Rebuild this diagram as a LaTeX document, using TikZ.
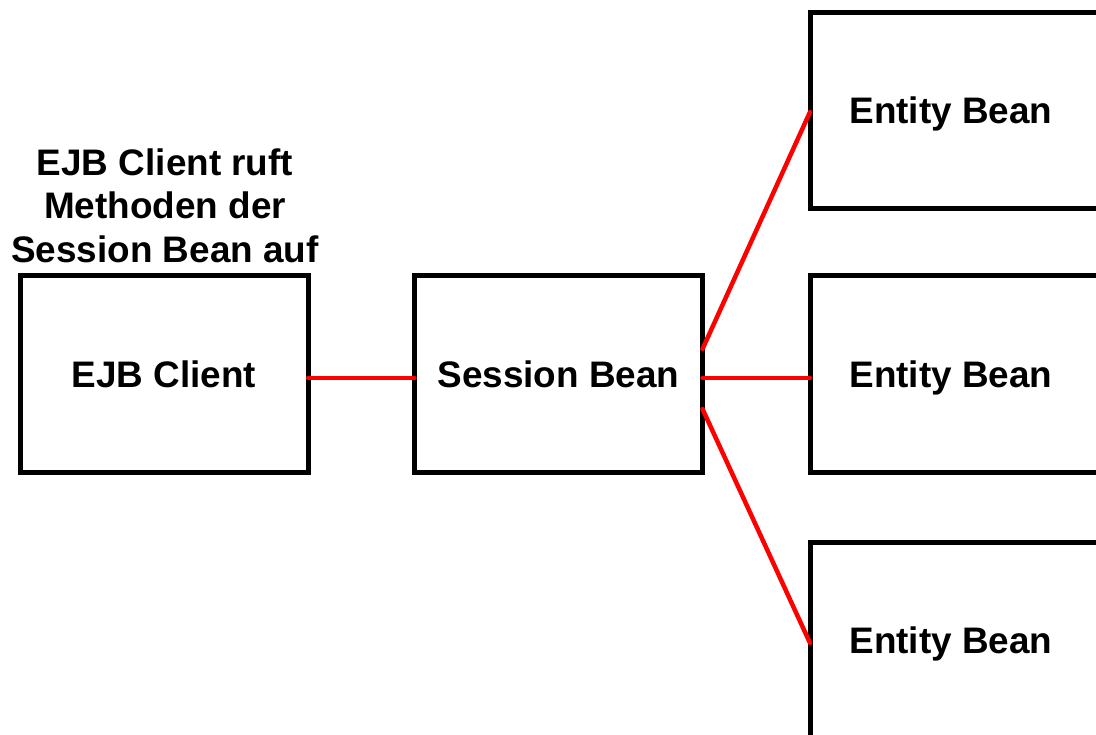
\documentclass[tikz,border=0pt]{standalone}
\usepackage{fontspec}
\setmainfont{Liberation Sans}
\begin{document}
\begin{tikzpicture}[x=1pt,y=-1pt,
  box/.style={draw=black,line width=5pt,fill=white,inner sep=0pt,outer sep=0pt,
    minimum width=288pt,minimum height=196pt,text depth=0pt,
    font=\bfseries\fontsize{36.9}{43.5}\selectfont},
  link/.style={draw=red,line width=4.5pt,line cap=round},
  lbl/.style={align=center,inner sep=0pt,font=\bfseries\fontsize{36.9}{43.5}\selectfont}]
\useasboundingbox (0,0) rectangle (1096,735);
\clip (0,0) rectangle (1096,735);
\node[box] (cl) at (164,374) {EJB Client};
\node[box] (sb) at (558.5,374) {Session Bean};
\node[box] (e1) at (954,110.5) {\hspace*{-6pt}Entity Bean};
\node[box] (e2) at (954,374) {\hspace*{-6pt}Entity Bean};
\node[box] (e3) at (954,640) {\hspace*{-6pt}Entity Bean};
\node[lbl,anchor=south] (t) at (165,263) {EJB Client ruft\\Methoden der\\Session Bean auf};
\draw[link] ([yshift=-4pt]cl.east) -- ([yshift=-4pt]sb.west);
\draw[link] ([yshift=25pt]sb.east) -- ([yshift=-1.5pt]e1.west);
\draw[link] ([yshift=-4pt]sb.east) -- ([yshift=-4pt]e2.west);
\draw[link] ([yshift=-35pt]sb.east) -- ([yshift=-3pt]e3.west);
\end{tikzpicture}
\end{document}
